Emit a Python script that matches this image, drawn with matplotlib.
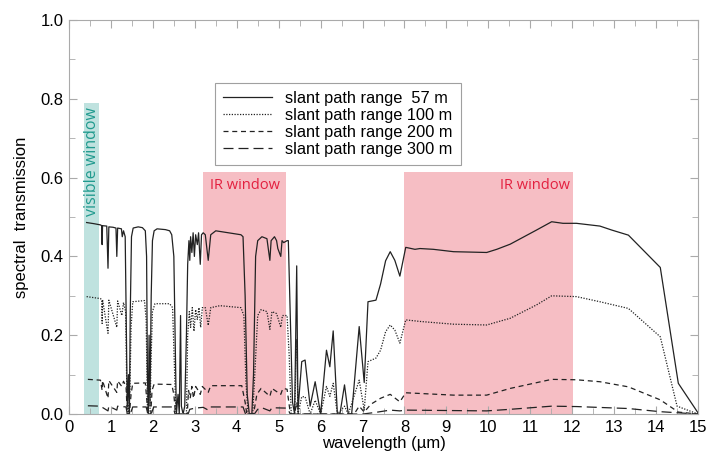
import numpy as np
import matplotlib
matplotlib.use('Agg')
import matplotlib.pyplot as plt
from matplotlib.patches import Rectangle

plt.rcParams['font.family'] = ['Liberation Sans', 'DejaVu Sans']

# ---- data (wavelength in um, transmission) ----
w57 = [0.42, 0.60, 0.75, 0.78, 0.79, 0.80, 0.90, 0.93, 0.95, 1.05, 1.12, 1.14, 1.16,
       1.25, 1.27, 1.30, 1.34, 1.37, 1.39, 1.42, 1.44, 1.46, 1.49, 1.53, 1.65, 1.75,
       1.82, 1.85, 1.87, 1.89, 1.91, 1.93, 1.96, 1.99, 2.03, 2.10, 2.30, 2.40, 2.45,
       2.50, 2.53, 2.56, 2.60, 2.63, 2.66, 2.68, 2.72, 2.76, 2.80, 2.83, 2.86, 2.88,
       2.90, 2.93, 2.96, 2.99, 3.02, 3.06, 3.09, 3.13, 3.16, 3.20, 3.25, 3.32, 3.38,
       3.50, 3.80, 4.10, 4.15, 4.20, 4.25, 4.30, 4.36, 4.40, 4.45, 4.50, 4.60, 4.72,
       4.79, 4.82, 4.90, 4.95, 4.98, 5.05, 5.08, 5.12, 5.20, 5.23, 5.29, 5.33, 5.38,
       5.43, 5.46, 5.55, 5.63, 5.75, 5.87, 6.00, 6.14, 6.22, 6.30, 6.40, 6.46, 6.57,
       6.66, 6.74, 6.92, 7.04, 7.13, 7.32, 7.43, 7.55, 7.66, 7.77, 7.89, 8.03, 8.25,
       8.37, 8.69, 9.17, 9.96, 10.20, 10.52, 11.15, 11.51, 11.78, 12.10, 12.66, 12.94,
       13.34, 14.10, 14.53, 15.00]
t57 = [0.486, 0.483, 0.480, 0.478, 0.43, 0.478, 0.477, 0.37, 0.475, 0.474, 0.472, 0.40, 0.472,
       0.470, 0.45, 0.465, 0.45, 0.20, 0.02, 0.10, 0.0, 0.25, 0.45, 0.472, 0.475, 0.473,
       0.465, 0.40, 0.10, 0.0, 0.20, 0.02, 0.30, 0.44, 0.465, 0.47, 0.468, 0.465, 0.455,
       0.40, 0.20, 0.0, 0.05, 0.0, 0.25, 0.02, 0.0, 0.02, 0.20, 0.38, 0.44, 0.39,
       0.45, 0.41, 0.46, 0.40, 0.455, 0.43, 0.46, 0.38, 0.455, 0.46, 0.455, 0.39, 0.455,
       0.465, 0.46, 0.455, 0.45, 0.30, 0.05, 0.0, 0.0, 0.10, 0.40, 0.44, 0.45, 0.445,
       0.39, 0.44, 0.45, 0.44, 0.42, 0.40, 0.44, 0.435, 0.44, 0.44, 0.20, 0.03, 0.0,
       0.376, 0.01, 0.133, 0.137, 0.02, 0.082, 0.0, 0.162, 0.12, 0.211, 0.0, 0.0, 0.074,
       0.0, 0.0, 0.222, 0.08, 0.285, 0.289, 0.33, 0.389, 0.412, 0.39, 0.35, 0.423, 0.418,
       0.42, 0.418, 0.412, 0.41, 0.418, 0.431, 0.467, 0.488, 0.484, 0.484, 0.477, 0.467,
       0.454, 0.372, 0.078, 0.003]

w100 = [0.42, 0.75, 0.78, 0.79, 0.80, 0.93, 0.95, 1.14, 1.16, 1.26, 1.30, 1.35, 1.38,
        1.41, 1.45, 1.48, 1.52, 1.80, 1.84, 1.87, 1.90, 1.93, 1.96, 1.99, 2.05, 2.40,
        2.47, 2.52, 2.55, 2.80, 2.83, 2.87, 2.90, 2.94, 2.98, 3.02, 3.06, 3.10, 3.14,
        3.18, 3.25, 3.32, 3.38, 3.60, 4.10, 4.17, 4.22, 4.27, 4.38, 4.43, 4.50, 4.58,
        4.72, 4.79, 4.84, 4.95, 5.05, 5.09, 5.20, 5.25, 5.30, 5.38, 5.43, 5.46, 5.55,
        5.63, 5.75, 5.87, 6.00, 6.14, 6.22, 6.30, 6.40, 6.57, 6.66, 6.92, 7.04, 7.13,
        7.32, 7.43, 7.55, 7.66, 7.77, 7.89, 8.03, 8.37, 9.17, 9.96, 10.52, 11.15, 11.51,
        12.10, 12.66, 13.34, 14.10, 14.50, 15.00]
t100 = [0.298, 0.293, 0.29, 0.23, 0.29, 0.205, 0.289, 0.22, 0.287, 0.25, 0.283, 0.26, 0.05,
        0.0, 0.05, 0.22, 0.285, 0.288, 0.24, 0.02, 0.0, 0.0, 0.15, 0.26, 0.28, 0.28,
        0.27, 0.10, 0.0, 0.0, 0.20, 0.26, 0.22, 0.27, 0.21, 0.265, 0.24, 0.27, 0.22,
        0.27, 0.27, 0.225, 0.27, 0.275, 0.27, 0.25, 0.08, 0.0, 0.0, 0.10, 0.25, 0.265,
        0.26, 0.215, 0.26, 0.255, 0.22, 0.25, 0.25, 0.15, 0.0, 0.0, 0.19, 0.0, 0.044,
        0.044, 0.0, 0.035, 0.0, 0.07, 0.045, 0.078, 0.0, 0.02, 0.0, 0.086, 0.01, 0.133,
        0.142, 0.162, 0.209, 0.226, 0.213, 0.18, 0.239, 0.235, 0.228, 0.226, 0.243, 0.277, 0.30,
        0.298, 0.285, 0.268, 0.196, 0.02, 0.0]

w200 = [0.45, 0.75, 0.79, 0.80, 0.93, 0.95, 1.14, 1.16, 1.26, 1.30, 1.36, 1.39, 1.44,
        1.48, 1.52, 1.82, 1.86, 1.89, 1.95, 1.98, 2.03, 2.45, 2.50, 2.54, 2.82, 2.85,
        2.89, 2.93, 2.97, 3.02, 3.08, 3.13, 3.18, 3.32, 3.38, 4.12, 4.20, 4.24, 4.40,
        4.48, 4.58, 4.79, 4.84, 5.05, 5.10, 5.20, 5.28, 5.38, 5.43, 5.47, 6.80, 6.92,
        7.04, 7.20, 7.43, 7.66, 7.89, 8.03, 9.17, 9.96, 10.52, 11.51, 12.10, 12.66, 13.34,
        14.10, 14.53, 15.00]
t200 = [0.088, 0.086, 0.06, 0.085, 0.04, 0.085, 0.055, 0.084, 0.07, 0.083, 0.07, 0.0, 0.0,
        0.05, 0.078, 0.079, 0.03, 0.0, 0.0, 0.06, 0.076, 0.075, 0.05, 0.0, 0.0, 0.06,
        0.04, 0.07, 0.04, 0.07, 0.06, 0.05, 0.07, 0.055, 0.072, 0.072, 0.03, 0.0, 0.0,
        0.05, 0.065, 0.045, 0.065, 0.05, 0.065, 0.063, 0.0, 0.0, 0.03, 0.0, 0.0, 0.02,
        0.005, 0.025, 0.04, 0.05, 0.031, 0.054, 0.048, 0.048, 0.065, 0.088, 0.087, 0.082, 0.069,
        0.036, 0.005, 0.0]

w300 = [0.45, 0.75, 0.93, 0.95, 1.14, 1.16, 1.36, 1.39, 1.46, 1.52, 1.84, 1.88, 1.96,
        2.02, 2.48, 2.53, 2.84, 2.88, 3.00, 3.20, 3.32, 3.38, 4.15, 4.21, 4.42, 4.50,
        4.60, 4.79, 4.84, 5.20, 5.28, 7.00, 7.30, 7.66, 7.89, 8.03, 9.96, 10.52, 11.51,
        12.10, 13.34, 14.10, 15.00]
t300 = [0.021, 0.02, 0.008, 0.02, 0.01, 0.02, 0.018, 0.0, 0.0, 0.018, 0.018, 0.0, 0.0,
        0.018, 0.018, 0.0, 0.0, 0.012, 0.015, 0.017, 0.01, 0.018, 0.018, 0.0, 0.0, 0.012,
        0.016, 0.008, 0.016, 0.015, 0.0, 0.0, 0.004, 0.01, 0.008, 0.01, 0.008, 0.012, 0.02,
        0.019, 0.014, 0.006, 0.0]

labels = ['slant path range  57 m', 'slant path range 100 m',
          'slant path range 200 m', 'slant path range 300 m']

# shaded windows: (start, end, top)
vis_window = (0.365, 0.715, 0.789)
ir_windows = [(3.2, 5.17, 0.613), (8.0, 12.02, 0.613)]

fig = plt.figure(figsize=(7.07, 4.54), dpi=100)
ax = fig.add_axes([0.0976, 0.088, 0.8897, 0.868])

teal = '#bfe2df'
pink = '#f6bec4'
ax.add_patch(Rectangle((vis_window[0], 0), vis_window[1] - vis_window[0], vis_window[2],
                       facecolor=teal, edgecolor='none', zorder=0))
for x0, x1, top in ir_windows:
    ax.add_patch(Rectangle((x0, 0), x1 - x0, top, facecolor=pink, edgecolor='none', zorder=0))

ax.text(0.54, 0.64, 'visible window', rotation=90, ha='center', va='center',
        color='#1f9a8e', fontsize=11.5, family=['Open Sans', 'DejaVu Sans'])
ax.text(4.2, 0.58, 'IR window', ha='center', va='center', color='#e3203f',
        fontsize=10.5, family=['Open Sans', 'DejaVu Sans'])
ax.text(11.12, 0.58, 'IR window', ha='center', va='center', color='#e3203f',
        fontsize=10.5, family=['Open Sans', 'DejaVu Sans'])

lc = '#222222'
ax.plot(w57, t57, color=lc, lw=0.9, ls='-', label=labels[0])
ax.plot(w100, t100, color=lc, lw=0.9, ls=(0, (1, 1.2)), label=labels[1])
ax.plot(w200, t200, color=lc, lw=0.9, ls=(0, (4, 3)), label=labels[2])
ax.plot(w300, t300, color=lc, lw=0.9, ls=(0, (8, 4)), label=labels[3])

ax.set_xlim(0, 15)
ax.set_ylim(0, 1.0)
ax.set_xticks(np.arange(0, 16, 1))
ax.set_xticks(np.arange(0, 15.5, 0.5), minor=True)
ax.set_yticks([0.0, 0.2, 0.4, 0.6, 0.8, 1.0])
ax.set_yticks(np.arange(0, 1.01, 0.1), minor=True)
ax.yaxis.set_major_formatter(plt.FormatStrFormatter('%.1f'))
ax.tick_params(which='both', direction='in', color='#aaaaaa', labelsize=12,
               top=True, right=True, pad=4)
ax.tick_params(which='major', length=6)
ax.tick_params(which='minor', length=4)
for s in ax.spines.values():
    s.set_color('#aaaaaa')
    s.set_linewidth(0.8)

ax.set_xlabel('wavelength (\u00b5m)', fontsize=12, labelpad=1)
ax.set_ylabel('spectral  transmission', fontsize=12, labelpad=8)

leg = ax.legend(loc='upper left', bbox_to_anchor=(0.219, 0.862), fontsize=11.8,
                handlelength=3.0, frameon=True, fancybox=False, borderpad=0.5,
                labelspacing=0.12, handletextpad=0.8)
leg.get_frame().set_edgecolor('#888888')
leg.get_frame().set_linewidth(0.8)

fig.savefig('out.png', dpi=100)
